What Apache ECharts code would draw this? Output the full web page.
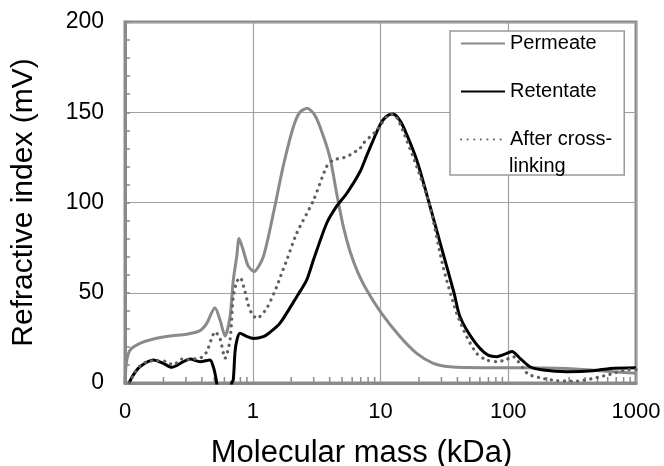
<!DOCTYPE html>
<html>
<head>
<meta charset="utf-8">
<script src="https://cdn.jsdelivr.net/npm/echarts@6/dist/echarts.min.js"></script>
<style>
  html, body { margin: 0; padding: 0; background: #fff; }
  #chart { width: 664px; height: 466px; }
</style>
</head>
<body>
<div id="chart"></div>
<script>
// molecular mass (kDa) and refractive index (mV)
var permeateMass = [0.1, 0.102, 0.106, 0.112, 0.131, 0.167, 0.225, 0.304, 0.387, 0.436, 0.506, 0.554, 0.607, 0.664, 0.704, 0.749, 0.781, 0.839, 0.918, 1.02, 1.21, 1.45, 1.73, 2.08, 2.34, 2.67, 3.02, 3.36, 4.02, 4.54, 5.12, 5.77, 6.67, 7.80, 10.1, 14.2, 19.2, 25.9, 35.0, 63.4, 117, 287, 523, 1000];
var permeateRI   = [0, 10, 16, 19, 22, 24.4, 26, 27, 29, 33, 41.7, 35, 26, 36.7, 57, 70, 80, 74, 65, 61.7, 70, 94, 120, 142, 150, 152.2, 149, 142, 125, 105, 86.6, 73, 61, 51.5, 39, 25.7, 16.4, 10.9, 9, 8.5, 8.5, 8.1, 6.8, 5.4];

var retentateMass = [0.1075, 0.116, 0.131, 0.167, 0.199, 0.232, 0.286, 0.323, 0.387, 0.463, 0.491, 0.506, 0.522, 0.544, 0.652, 0.684, 0.704, 0.726, 0.753, 0.795, 0.886, 1.01, 1.21, 1.36, 1.63, 2.21, 2.64, 2.98, 3.79, 4.54, 5.44, 6.91, 7.80, 9.91, 11.04, 12.46, 13.71, 15.08, 19.2, 23.97, 30.0, 37.6, 41.9, 53.3, 67.8, 81.2, 97.3, 107, 123.6, 148, 188, 287, 463, 626, 1000];
var retentateRI   = [0, 4.4, 9, 12.7, 10.9, 8.7, 11.8, 13.3, 11.8, 12.7, 9, 5.4, 0, -20, -20, 0, 1.7, 17, 24, 27.5, 26, 24.7, 25.7, 28, 33, 47.8, 57, 68, 88.5, 98, 105, 117, 126, 143, 147.5, 149, 147, 142, 123.5, 100, 75, 50, 36.7, 23.8, 15.9, 14.6, 16.4, 17.5, 13.7, 9, 7.2, 6.3, 6.8, 8.1, 8.5];

var crosslinkMass = [0.108, 0.117, 0.131, 0.148, 0.177, 0.206, 0.239, 0.278, 0.304, 0.399, 0.436, 0.477, 0.506, 0.554, 0.607, 0.664, 0.704, 0.749, 0.795, 0.870, 0.923, 0.981, 1.074, 1.286, 1.54, 1.685, 1.845, 2.208, 2.979, 3.793, 4.271, 5.438, 6.91, 7.335, 9.34, 11.18, 12.31, 13.71, 19.2, 24.41, 31.0, 39.5, 47.3, 56.6, 67.8, 81.2, 94.3, 109.5, 119.2, 131.2, 143.6, 177.2, 239.5, 343.5, 463.4, 625.9, 820, 1000];
var crosslinkRI   = [0, 5, 9.4, 11.8, 12.4, 12, 10, 13.3, 13, 14.2, 17.3, 24.7, 28.4, 24.7, 13.7, 23.8, 47.8, 56, 58.5, 50.6, 43.2, 38.6, 35.8, 41.4, 53.4, 60.8, 68, 83, 101, 120, 123.5, 125.4, 130, 132.8, 140, 147.5, 149, 146, 120, 97.7, 64, 38.6, 25.7, 16.4, 12.7, 11.8, 12.7, 14.6, 12, 8.1, 4.8, 2.9, 1.3, 1.1, 2.6, 4.8, 7.2, 7.5];

var xTicks = [0.1, 1, 10, 100, 1000];
var yTicks = [0, 50, 100, 150, 200];

function pairs(xs, ys) {
	return xs.map(function (x, i) { return [x, ys[i]]; });
}

// log minor ticks 2..9 in every decade
var minorTicks = [];
for (var d = 0; d < xTicks.length - 1; d++) {
	for (var k = 2; k <= 9; k++) {
		minorTicks.push([xTicks[d] * k, 0]);
	}
}

var font = 'Liberation Sans, Arial, sans-serif';
var axisGray = '#8a8a8a';

var myChart = echarts.init(document.getElementById('chart'));
var option = {
	animation: false,
	textStyle: { fontFamily: font, color: '#000' },
	grid: {
		left: 125, right: 28, top: 22, bottom: 83,
		outerBoundsMode: 'none',
		containLabel: false,
		show: true, borderColor: axisGray, borderWidth: 3
	},
	legend: {
		data: ['Permeate', 'Retentate', 'After cross-linking'],
		// the legend writes the first line, the second line is the graphic below
		formatter: function (name) {
			return name === 'After cross-linking' ? 'After cross-' : name;
		},
		orient: 'vertical',
		left: 450, top: 31,
		padding: [0, 12, 23, 10],
		itemGap: 23,
		itemWidth: 44,
		itemHeight: 14,
		itemStyle: { opacity: 0 },
		backgroundColor: '#fff',
		borderColor: '#999',
		borderWidth: 1.5,
		borderRadius: 0,
		textStyle: { fontFamily: font, fontSize: 20, lineHeight: 25, color: '#000' }
	},
	graphic: [{
		type: 'text',
		z: 100,
		style: {
			text: 'linking',
			x: 509, y: 166,
			verticalAlign: 'middle',
			font: '20px ' + font,
			fill: '#000'
		}
	}],
	xAxis: {
		type: 'log',
		logBase: 10,
		min: xTicks[0],
		max: xTicks[xTicks.length - 1],
		name: 'Molecular mass (kDa)',
		nameLocation: 'middle',
		nameGap: 55,
		nameTextStyle: { fontFamily: font, fontSize: 31, color: '#000', padding: [0, 38, 0, 0] },
		axisLine: { show: true, lineStyle: { color: axisGray, width: 3 } },
		axisTick: { show: false },
		axisLabel: {
			fontFamily: font, fontSize: 22, color: '#000', margin: 18,
			showMinLabel: true, showMaxLabel: true,
			formatter: function (v) { return v < 1 ? '0' : String(Math.round(v)); }
		},
		splitLine: { show: true, lineStyle: { color: '#a0a0a0', width: 1.2 } }
	},
	yAxis: {
		type: 'value',
		min: yTicks[0],
		max: yTicks[yTicks.length - 1],
		interval: 50,
		name: 'Refractive index (mV)',
		nameLocation: 'middle',
		nameGap: 86,
		nameTextStyle: { fontFamily: font, fontSize: 30, color: '#000' },
		axisLine: { show: true, lineStyle: { color: axisGray, width: 3 } },
		axisTick: { show: true, inside: true, length: 5, lineStyle: { color: axisGray, width: 1.5 } },
		minorTick: { show: true, splitNumber: 5, length: 5, lineStyle: { color: axisGray, width: 1.5 } },
		axisLabel: { fontFamily: font, fontSize: 23, color: '#000', margin: 21 },
		splitLine: { show: true, lineStyle: { color: '#a0a0a0', width: 1.2 } }
	},
	series: [
		{
			name: 'Permeate',
			type: 'line',
			symbol: 'none',
			smooth: 0.25,
			clip: true,
			lineStyle: { color: '#8a8a8a', width: 3 },
			itemStyle: { color: '#8a8a8a' },
			data: pairs(permeateMass, permeateRI)
		},
		{
			name: 'Retentate',
			type: 'line',
			symbol: 'none',
			smooth: 0.25,
			clip: true,
			lineStyle: { color: '#000', width: 3 },
			itemStyle: { color: '#000' },
			data: pairs(retentateMass, retentateRI)
		},
		{
			name: 'After cross-linking',
			type: 'line',
			symbol: 'none',
			smooth: 0.25,
			clip: true,
			lineStyle: { color: '#606060', width: 3.2, type: [0.1, 6.5], cap: 'round' },
			itemStyle: { color: '#606060' },
			data: pairs(crosslinkMass, crosslinkRI)
		},
		{
			// inward minor ticks of the log axis
			name: 'minorTicks',
			type: 'custom',
			silent: true,
			renderItem: function (params, api) {
				var p = api.coord([api.value(0), 0]);
				return {
					type: 'line',
					shape: { x1: p[0], y1: p[1] - 1, x2: p[0], y2: p[1] - 6 },
					style: { stroke: axisGray, lineWidth: 1.5 }
				};
			},
			data: minorTicks
		}
	]
};
myChart.setOption(option);
window.onresize = function () {
	myChart.resize();
}
</script>
</body>
</html>
